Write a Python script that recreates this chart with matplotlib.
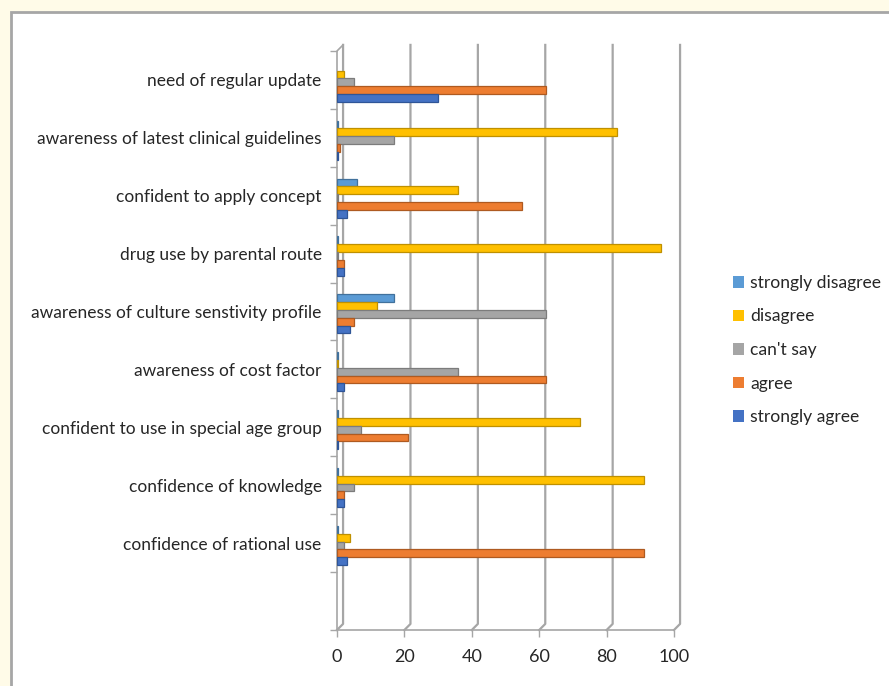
import matplotlib.pyplot as plt
import numpy as np
from matplotlib.patches import Rectangle

plt.rcParams["font.family"] = ["Lato", "DejaVu Sans"]

# categories from top to bottom (last slot is empty in the original)
categories = ["need of regular update",
              "awareness of latest clinical guidelines",
              "confident to apply concept",
              "drug use by parental route",
              "awareness of culture senstivity profile",
              "awareness of cost factor",
              "confident to use in special age group",
              "confidence of knowledge",
              "confidence of rational use",
              ""]

strongly_disagree = [0, 0.4, 6, 0.4, 17, 0.4, 0.4, 0.4, 0.4, 0]
disagree = [2, 83, 36, 96, 12, 0.4, 72, 91, 4, 0]
cant_say = [5, 17, 0.4, 0.4, 62, 36, 7, 5, 2, 0]
agree = [62, 1, 55, 2, 5, 62, 21, 2, 91, 0]
strongly_agree = [30, 0.4, 3, 2, 4, 2, 0.4, 2, 3, 0]

series = ["strongly disagree", "disagree", "can't say", "agree", "strongly agree"]
values = [strongly_disagree, disagree, cant_say, agree, strongly_agree]
colors = ["#5B9BD5", "#FFC000", "#A5A5A5", "#ED7D31", "#4472C4"]
edges = ["#41719C", "#BF9000", "#7C7C7C", "#AE5A21", "#2F5597"]

xticks = [0, 20, 40, 60, 80, 100]

fig = plt.figure(figsize=(8.89, 6.86), dpi=100)
fig.patch.set_facecolor("#FFFBE8")
# white chart panel with gray border
panel = Rectangle((11 / 889, -0.05), 1.0, 1 - 12 / 686 + 0.05,
                  transform=fig.transFigure, facecolor="white",
                  edgecolor="#A6A6A6", linewidth=2, zorder=-5)
fig.patches.append(panel)

ax = fig.add_axes([337 / 889, 1 - 630 / 686, 337 / 889, 579 / 686])
ax.set_facecolor("none")
ax.set_zorder(2)

n = len(categories)
y = np.arange(n)
h = 0.135
dx = 1.8     # depth offset of the back wall (data units)
dy = 0.105

# back wall gridlines + floor
for v in xticks:
    ax.plot([v + dx, v + dx, v], [-0.5 - dy, n - 0.5 - dy, n - 0.5],
            color="#A6A6A6", lw=1.6, clip_on=False, zorder=1)
ax.plot([0, 100], [n - 0.5, n - 0.5], color="#A6A6A6", lw=1.2, clip_on=False, zorder=1)
# left axis (front) with top slant
ax.plot([0, 0, dx], [n - 0.5, -0.5, -0.5 - dy], color="#A6A6A6", lw=1.2,
        clip_on=False, zorder=1)

for k, (name, vals) in enumerate(zip(series, values)):
    vals = np.asarray(vals, dtype=float)
    lw = np.where(vals > 0, 0.9, 0.0)
    ax.barh(y + (k - 2) * h + 0.04, vals, height=h, color=colors[k],
            edgecolor=edges[k], linewidth=lw, label=name, zorder=3)

ax.set_xlim(0, 100)
ax.set_ylim(n - 0.5, -0.5)
for s in ax.spines.values():
    s.set_visible(False)

ax.set_yticks(y)
ax.set_yticklabels(categories, fontsize=12.5, color="#262626")
ax.tick_params(axis="y", length=0, pad=11)
ax.set_yticks(np.arange(n + 1) - 0.5, minor=True)
ax.tick_params(axis="y", which="minor", length=5, color="#A6A6A6", width=1)

ax.set_xticks(xticks)
ax.set_xticklabels([str(t) for t in xticks], fontsize=13, color="#262626")
ax.tick_params(axis="x", length=5, color="#A6A6A6", width=1, pad=9)

handles, labels = ax.get_legend_handles_labels()
leg = fig.legend(handles, labels, loc="center left", bbox_to_anchor=(717 / 889, 1 - 350 / 686),
                 frameon=False, fontsize=12.6, handlelength=0.65, handleheight=0.65,
                 labelspacing=1.0, handletextpad=0.35, labelcolor="#262626")
for hd in leg.legend_handles:
    hd.set_edgecolor("none")

fig.savefig("out.png", dpi=100)
